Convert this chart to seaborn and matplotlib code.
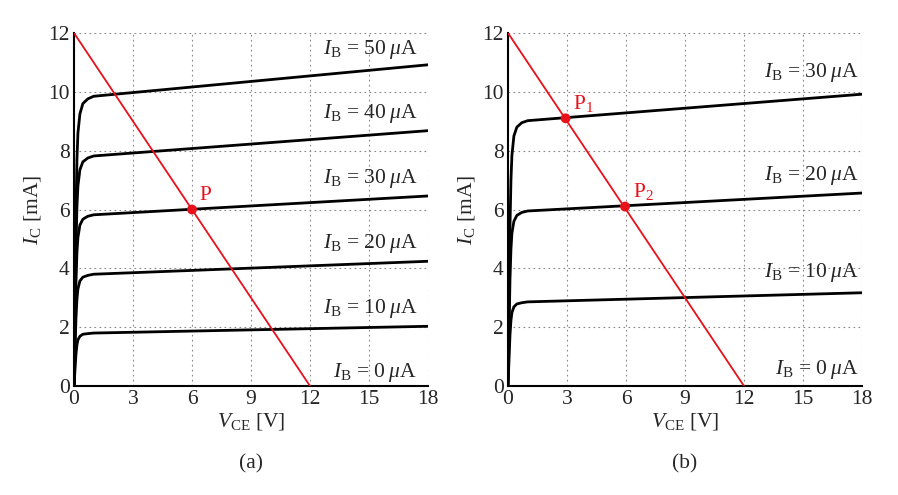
import matplotlib
matplotlib.use("Agg")
import matplotlib.pyplot as plt
import seaborn as sns

# Input data
vce = [0, 0.05, 0.1, 0.15, 0.2, 0.3, 0.45, 0.7, 1.0, 18]

curves_a = {
    "$I_\\mathrm{B}$ = 50$\\;\\mu$A": [0, 3.0, 5.9, 7.7, 8.6, 9.25, 9.6, 9.76, 9.85, 10.92],
    "$I_\\mathrm{B}$ = 40$\\;\\mu$A": [0, 2.3, 4.7, 6.1, 6.8, 7.35, 7.62, 7.75, 7.82, 8.68],
    "$I_\\mathrm{B}$ = 30$\\;\\mu$A": [0, 1.75, 3.5, 4.55, 5.05, 5.47, 5.67, 5.77, 5.82, 6.46],
    "$I_\\mathrm{B}$ = 20$\\;\\mu$A": [0, 1.15, 2.3, 2.95, 3.3, 3.57, 3.7, 3.76, 3.8, 4.24],
    "$I_\\mathrm{B}$ = 10$\\;\\mu$A": [0, 0.55, 1.08, 1.4, 1.57, 1.69, 1.76, 1.78, 1.8, 2.03],
    "$I_\\mathrm{B}$ = 0$\\;\\mu$A": [0, 0, 0, 0, 0, 0, 0, 0, 0, 0],
}
label_y_a = [11.45, 9.25, 7.05, 4.85, 2.65, 0.45]

curves_b = {
    "$I_\\mathrm{B}$ = 30$\\;\\mu$A": [0, 2.7, 5.4, 7.0, 7.85, 8.5, 8.8, 8.95, 9.02, 9.92],
    "$I_\\mathrm{B}$ = 20$\\;\\mu$A": [0, 1.8, 3.6, 4.65, 5.2, 5.6, 5.8, 5.9, 5.95, 6.56],
    "$I_\\mathrm{B}$ = 10$\\;\\mu$A": [0, 0.86, 1.72, 2.23, 2.5, 2.69, 2.79, 2.83, 2.86, 3.17],
    "$I_\\mathrm{B}$ = 0$\\;\\mu$A": [0, 0, 0, 0, 0, 0, 0, 0, 0, 0],
}
label_y_b = [10.65, 7.15, 3.85, 0.55]

load_v = [0, 12]
load_i = [12, 0]

points_a = {"P": (6.0, 6.0)}
points_b = {"P$_1$": (2.93, 9.1), "P$_2$": (5.95, 6.1)}

xticks = [0, 3, 6, 9, 12, 15, 18]
yticks = [0, 2, 4, 6, 8, 10, 12]

sns.set_style("white")
plt.rcParams["font.family"] = ["Liberation Serif", "DejaVu Serif"]
plt.rcParams["mathtext.fontset"] = "custom"
plt.rcParams["mathtext.rm"] = "Liberation Serif"
plt.rcParams["mathtext.it"] = "Liberation Serif:italic"
plt.rcParams["mathtext.bf"] = "Liberation Serif:bold"
FS = 15.5


def draw_panel(ax, curves, label_ys, label_x, points, caption):
    for (name, vals), ly in zip(curves.items(), label_ys):
        sns.lineplot(x=vce, y=vals, ax=ax, color="black", lw=2.0,
                     sort=False, estimator=None, zorder=3)
        ax.text(label_x, ly, name, ha="right", va="center", fontsize=FS)
    sns.lineplot(x=load_v, y=load_i, ax=ax, color="#e8101a", lw=1.3,
                 sort=False, estimator=None, zorder=4)
    px = [p[0] for p in points.values()]
    py = [p[1] for p in points.values()]
    sns.scatterplot(x=px, y=py, ax=ax, color="#e8101a", s=50,
                    edgecolor="none", zorder=5)
    for name, (x, y) in points.items():
        ax.text(x + 0.4, y + 0.15, name, color="#e8101a",
                fontsize=FS, ha="left", va="bottom")

    ax.set_xlim(0, 18)
    ax.set_ylim(0, 12)
    ax.set_xticks(xticks)
    ax.set_yticks(yticks)
    ax.tick_params(length=0, labelsize=FS, pad=3)
    ax.grid(True, ls=(0, (1.5, 3)), color="#888888", lw=0.8)
    for s in ["top", "right"]:
        ax.spines[s].set_visible(False)
    for s in ["left", "bottom"]:
        ax.spines[s].set_color("black")
        ax.spines[s].set_linewidth(1.5)
    ax.set_xlabel("$V_\\mathrm{CE}$ [V]", fontsize=FS, labelpad=1)
    ax.set_ylabel("$I_\\mathrm{C}$ [mA]", fontsize=FS, labelpad=4)
    ax.text(0.5, -0.22, caption, transform=ax.transAxes, ha="center",
            va="center", fontsize=FS)


fig = plt.figure(figsize=(8.98, 4.95), dpi=100)
ax1 = fig.add_axes([0.0824, 0.2202, 0.3942, 0.7131])
ax2 = fig.add_axes([0.5657, 0.2202, 0.3942, 0.7131])

draw_panel(ax1, curves_a, label_y_a, 17.45, points_a, "(a)")
draw_panel(ax2, curves_b, label_y_b, 17.85, points_b, "(b)")

fig.savefig("out.png", dpi=100)
plt.close(fig)
